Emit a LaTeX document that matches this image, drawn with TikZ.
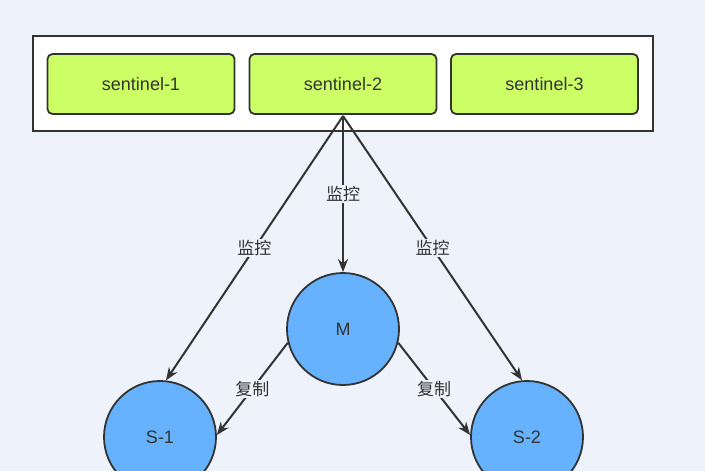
\documentclass[tikz,border=0pt]{standalone}
\usepackage{fontspec}
\setmainfont{Liberation Sans}
\newfontfamily\cjk{Noto Sans CJK SC}
\usetikzlibrary{arrows.meta}
\definecolor{bg}{HTML}{EEF2FA}
\definecolor{sgreen}{HTML}{CCFF66}
\definecolor{cblue}{HTML}{66B2FF}
\definecolor{edge}{HTML}{333333}
\begin{document}
\begin{tikzpicture}[x=1pt,y=-1pt,
  sent/.style={draw=edge,line width=1.8pt,fill=sgreen,rounded corners=5pt,minimum width=187pt,minimum height=60pt,font=\fontsize{18}{21}\selectfont,text=edge},
  circ/.style={circle,draw=edge,line width=1.8pt,fill=cblue,minimum size=112pt,font=\fontsize{18}{21}\selectfont,text=edge},
  arr/.style={draw=edge,line width=2pt,-{Stealth[length=13pt,width=10pt]}},
  lab/.style={fill=bg,inner sep=1.5pt,font=\cjk\fontsize{17}{19}\selectfont,text=edge}]
\clip (0,0) rectangle (705,471);
\fill[bg] (0,0) rectangle (705,471);
\draw[edge,line width=2pt,fill=white] (33,36) rectangle (653,131);
\node[sent] (s1) at (141,84) {sentinel-1};
\node[sent] (s2) at (343,84) {sentinel-2};
\node[sent] (s3) at (544.5,84) {sentinel-3};
\node[circ] (m) at (343,329) {M};
\node[circ] (a) at (160,437) {S-1};
\node[circ] (b) at (527,437) {S-2};
\coordinate (o) at (343,116);
\draw[arr] (o) -- node[lab,pos=0.5]{监控} (m);
\draw[arr] (o) -- node[lab,pos=0.5]{监控} (a.84);
\draw[arr] (o) -- node[lab,pos=0.5]{监控} (b.95);
\draw[arr] (m.194) -- node[lab]{复制} (a.2);
\draw[arr] (m.346) -- node[lab]{复制} (b.178);
\end{tikzpicture}
\end{document}
